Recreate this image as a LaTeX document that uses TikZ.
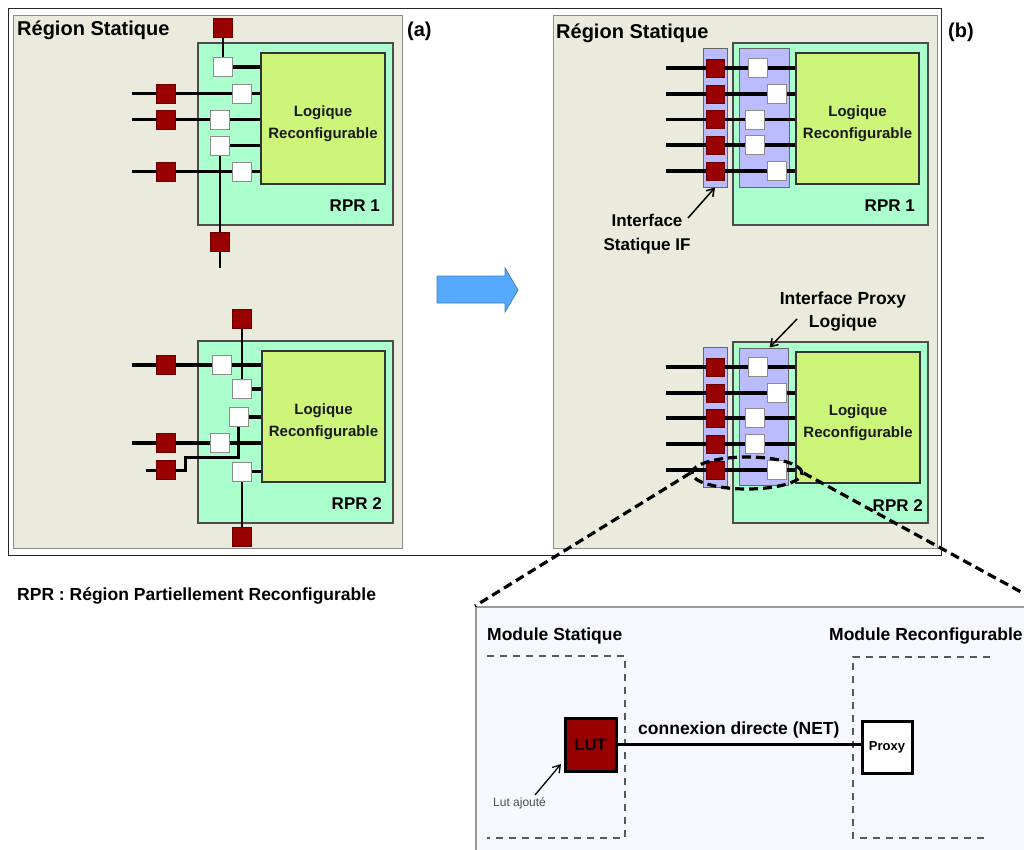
\documentclass[tikz,border=0pt]{standalone}
\usepackage{fontspec}
\setmainfont{Liberation Sans}
\usetikzlibrary{arrows.meta,calc,shapes.geometric}
\definecolor{beige}{RGB}{235,235,221}
\definecolor{mint}{RGB}{170,255,204}
\definecolor{lgreen}{RGB}{204,245,122}
\definecolor{dred}{RGB}{153,0,0}
\definecolor{lav}{RGB}{187,187,255}
\definecolor{insetbg}{RGB}{245,248,253}
\definecolor{ablue}{RGB}{85,170,255}
\newcommand\fsz[2]{\fontsize{#1}{#2}\selectfont}
\pgfdeclarelayer{back}
\pgfdeclarelayer{wires}
\pgfsetlayers{back,wires,main}
\tikzset{
 panel/.style={draw=black!45, fill=beige, line width=1pt},
 rpr/.style={draw=black!70, fill=mint, line width=1.3pt},
 logic/.style={draw=black!80, fill=lgreen, line width=1.3pt, inner sep=0pt},
 logictext/.style={font=\fsz{15}{22}\bfseries, align=center, text=black!90, inner sep=0pt},
 redsq/.style={draw=dred!70!black, fill=dred, minimum size=19pt, inner sep=0pt, line width=0.6pt},
 whitesq/.style={draw=black!45, fill=white, minimum size=19pt, inner sep=0pt, line width=0.8pt},
 wire/.style={line width=3.2pt},
 vwire/.style={line width=2pt},
 mwire/.style={line width=3pt},
 bar/.style={draw=black!60, fill=lav, line width=1pt, inner sep=0pt},
 title/.style={font=\fsz{20}{24}\bfseries, anchor=west, inner sep=0pt},
 lbl/.style={font=\fsz{17.5}{24}\bfseries, inner sep=0pt},
 rprlbl/.style={font=\fsz{17}{20}\bfseries, inner sep=0pt, anchor=east},
 ann/.style={line width=1.5pt, -{Straight Barb[length=7pt,width=9pt]}},
 zoomdash/.style={line width=3.2pt, dash pattern=on 9pt off 5pt},
 modbox/.style={draw=black!65, line width=1.3pt, dash pattern=on 7pt off 6pt},
}
\begin{document}
\begin{tikzpicture}[x=1pt,y=-1pt]
\useasboundingbox (0,0) rectangle (1024,849);
\clip (0,0) rectangle (1024,849);
\begin{pgfonlayer}{back}
\fill[white] (0,0) rectangle (1024,849);
\draw[black!85, line width=1pt] (8,8) rectangle (941,555);
\draw[panel] (13,15) rectangle (402,548);
\draw[panel] (553,15) rectangle (937,548);
\draw[rpr] (198,43) rectangle (393,225);
\draw[rpr] (198,341) rectangle (393,523);
\draw[rpr] (733,43) rectangle (928,225);
\draw[rpr] (733,342) rectangle (928,523);
\node[bar, minimum width=24pt, minimum height=139pt] (sif1) at (715,117.5) {};
\node[bar, minimum width=50pt, minimum height=139pt] (pif1) at (764,117.5) {};
\node[bar, minimum width=24pt, minimum height=140pt] (sif2) at (715,417) {};
\node[bar, minimum width=49pt, minimum height=137pt] (pif2) at (763.5,416.5) {};
\end{pgfonlayer}

% titles
\node[title] (ta) at (17,30) {Région Statique};
\node[title] (la) at (407,31) {(a)};
\node[title] (tb) at (556,33) {Région Statique};
\node[title] (lb) at (948,32) {(b)};

% logic blocks
\node[logic, minimum width=124pt, minimum height=131pt] (L1) at (323,118.5) {};
\node[logictext] at (323,124) {Logique\\Reconfigurable};
\node[logic, minimum width=123pt, minimum height=131pt] (L2) at (323.5,416.5) {};
\node[logictext] at (323.5,422) {Logique\\Reconfigurable};
\node[logic, minimum width=123pt, minimum height=131pt] (L3) at (857.5,118.5) {};
\node[logictext] at (857.5,124) {Logique\\Reconfigurable};
\node[logic, minimum width=124pt, minimum height=131pt] (L4) at (858,417.5) {};
\node[logictext] at (858,423) {Logique\\Reconfigurable};

\node[rprlbl] at (380,206) {RPR 1};
\node[rprlbl] at (382,504) {RPR 2};
\node[rprlbl] at (915,206) {RPR 1};
\node[rprlbl] at (923,506) {RPR 2};

% ---- panel (a), RPR 1
\node[redsq] (ra0) at (222.5,27.5) {};
\node[whitesq] (wa1) at (222.5,67) {};
\coordinate (ca1) at (132,93.5);
\node[redsq] (ra1) at (166,93.5) {};
\node[whitesq] (wa2) at (241.5,93.5) {};
\coordinate (ca2) at (132,119.5);
\node[redsq] (ra2) at (166,119.5) {};
\node[whitesq] (wa3) at (219.5,119.5) {};
\node[whitesq] (wa4) at (219.5,145.5) {};
\coordinate (ca3) at (132,171.5);
\node[redsq] (ra3) at (166,171.5) {};
\node[whitesq] (wa5) at (241.5,171.5) {};
\node[redsq] (ra4) at (219.5,241.5) {};
\coordinate (ca4) at (219.5,268);
\begin{pgfonlayer}{wires}
\draw[vwire] (ra0) -- (wa1);
\draw[wire] (wa1) -- (wa1 -| L1.west);
\draw[wire] (ca1) -- (ra1) -- (wa2) -- (wa2 -| L1.west);
\draw[wire] (ca2) -- (ra2) -- (wa3) -- (wa3 -| L1.west);
\draw[wire] (wa4) -- (wa4 -| L1.west);
\draw[vwire] (wa4) -- (ra4) -- (ca4);
\draw[wire] (ca3) -- (ra3) -- (wa5) -- (wa5 -| L1.west);
\end{pgfonlayer}

% ---- panel (a), RPR 2
\node[redsq] (rb0) at (241.5,318.5) {};
\coordinate (cb1) at (132,365);
\node[redsq] (rb1) at (165.5,365) {};
\node[whitesq] (wb1) at (222,365) {};
\node[whitesq] (wb2) at (241.5,389) {};
\node[whitesq] (wb3) at (238.5,417) {};
\coordinate (cb2) at (132,443);
\node[redsq] (rb2) at (165.5,443) {};
\node[whitesq] (wb4) at (219.5,443) {};
\node[redsq] (rb3) at (165.5,470) {};
\coordinate (kb1) at (185,457);
\coordinate (cb3) at (146,470);
\node[whitesq] (wb5) at (241.5,471.5) {};
\node[redsq] (rb4) at (241.5,536.5) {};
\begin{pgfonlayer}{wires}
\draw[vwire] (rb0) -- (wb2);
\draw[wire] (cb1) -- (rb1) -- (wb1) -- (wb1 -| L2.west);
\draw[wire] (wb2) -- (wb2 -| L2.west);
\draw[wire] (wb3) -- (wb3 -| L2.west);
\draw[mwire] (wb3) |- (kb1) |- (rb3);
\draw[mwire] (rb3) -- (cb3);
\draw[wire] (cb2) -- (rb2) -- (wb4) -- (wb4 -| L2.west);
\draw[wire] (wb5) -- (wb5 -| L2.west);
\draw[vwire] (wb5) -- (rb4);
\end{pgfonlayer}

% ---- panel (b)
\foreach \y/\wx [count=\i] in {68/757.5, 94/777, 119.5/754.5, 145/754.5, 171/777} {
  \coordinate (pt\i) at (666,\y);
  \node[redsq, minimum size=18pt] (pr\i) at (715,\y) {};
  \node[whitesq] (pw\i) at (\wx,\y) {};
  \begin{pgfonlayer}{wires}
  \draw[wire] (pt\i) -- (pr\i) -- (pw\i) -- (pw\i -| L3.west);
  \end{pgfonlayer}
}
\foreach \y/\wx [count=\i] in {367/757.5, 393/777, 418/754.5, 444/754.5, 470/777} {
  \coordinate (qt\i) at (666,\y);
  \node[redsq, minimum size=18pt] (qr\i) at (715,\y) {};
  \node[whitesq] (qw\i) at (\wx,\y) {};
  \begin{pgfonlayer}{wires}
  \draw[wire] (qt\i) -- (qr\i) -- (qw\i) -- (qw\i -| L4.west);
  \end{pgfonlayer}
}

\node[lbl, font=\fsz{17}{24}\bfseries, align=center] (ifs) at (647,234) {Interface\\Statique IF};
\coordinate (ifsa) at (688,218);
\draw[ann] (ifsa) -- (sif1.south);
\node[lbl, align=center, font=\fsz{17.5}{23}\bfseries] (ipl) at (843,311.5) {Interface Proxy\\Logique};
\coordinate (ipla) at (797,319);
\draw[ann] (ipla) -- ($(pif2.north)+(6,0)$);

% big arrow
\draw[fill=ablue, draw=ablue!75!black, line width=0.8pt] (437,276) -- (505,276) -- (505,268) -- (518,290) -- (505,312) -- (505,303) -- (437,303) -- cycle;

\node[lbl, anchor=west] (leg) at (17,596) {RPR : Région Partiellement Reconfigurable};

% inset
\node[draw=black!40, fill=insetbg, line width=1.5pt, minimum width=580pt, minimum height=280pt, anchor=north west, inner sep=0pt] (ins) at (475,606) {};
\node[lbl, anchor=west] (ms) at (487,636) {Module Statique};
\node[lbl, anchor=west] (mr) at (829,636) {Module Reconfigurable};
\draw[modbox] (487,656) -- (625,656) -- (625,838) -- (487,838);
\draw[modbox] (990,657) -- (853,657) -- (853,838) -- (990,838);
\node[draw=black, line width=3pt, fill=dred, text=black, minimum width=51pt, minimum height=53pt, inner sep=0pt, font=\fsz{16.5}{20}\bfseries] (LUT) at (590.5,744.5) {LUT};
\node[draw=black, line width=3pt, fill=white, text=black, minimum width=50pt, minimum height=52pt, inner sep=0pt, font=\fsz{13}{16}\bfseries] (PX) at (887,747) {Proxy};
\draw[line width=3.5pt] (LUT) -- (LUT -| PX.west);
\node[lbl, anchor=west] (cd) at (638,730) {connexion directe (NET)};
\node[font=\fsz{12}{14}, text=black!70, anchor=west, inner sep=0pt] (lutlab) at (493,803) {Lut ajouté};
\coordinate (lutarrs) at (535,795);
\coordinate (lutend) at (561,764);
\draw[ann, line width=1.3pt] (lutarrs) -- (lutend);

% zoom ellipse and dashed lines
\node[ellipse, draw, zoomdash, minimum width=110pt, minimum height=32pt, inner sep=0pt] (zel) at (747,473) {};
\coordinate (insne) at (1032,598);
\draw[zoomdash] (zel.west) -- (ins.north west);
\draw[zoomdash] (zel.east) -- (insne);
\end{tikzpicture}
\end{document}
